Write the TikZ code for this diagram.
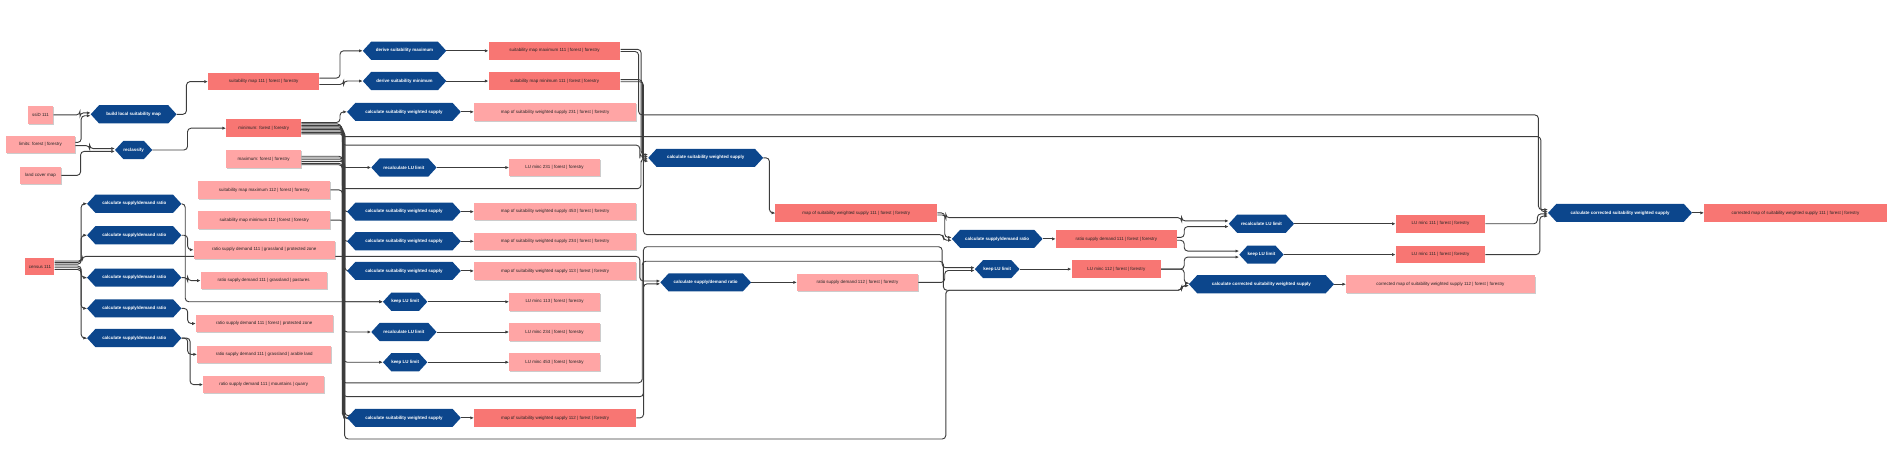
\documentclass[tikz,border=0pt]{standalone}
\usepackage{fontspec}
\setmainfont{Liberation Sans}
\usetikzlibrary{shapes.symbols,arrows.meta,shadows,backgrounds}
\definecolor{stepBlue}{RGB}{12,70,140}
\definecolor{dataDark}{RGB}{248,118,115}
\definecolor{dataLight}{RGB}{255,165,165}
\definecolor{linkGray}{RGB}{60,60,60}
\begin{document}
\begin{tikzpicture}[x=0.06cm,y=-0.06cm]
 \tikzset{
  stepNode/.style={shape=signal, signal to=east and west, signal pointer angle=95,
    fill=stepBlue, text=white, font=\fontsize{6.3}{7}\selectfont\bfseries,
    minimum height=0.9cm, inner xsep=0pt, inner ysep=0pt},
  dataNode/.style={rectangle, fill=dataDark, text=black!85,
    font=\fontsize{6.3}{7}\selectfont, minimum height=0.87cm, inner sep=0pt},
  inputNode/.style={dataNode, fill=dataLight,
    drop shadow={shadow xshift=1.5pt, shadow yshift=-1.5pt, fill=black!40}},
  link/.style={draw=linkGray, line width=1.3pt, rounded corners=5pt,
    -{Latex[length=5pt,width=4.5pt]}}
 }
 \useasboundingbox (0,0) rectangle (1566,378);

 % inputs
 \node[inputNode, minimum width=1.26cm] (ssid) at (33.5,95) {ssiD 111};
 \node[inputNode, minimum width=3.42cm] (limits) at (33.5,119.5) {limits: forest | forestry};
 \node[inputNode, minimum width=2.04cm] (landCover) at (33.5,145) {land cover map};
 \node[dataNode, minimum width=1.44cm] (census) at (33,220.5) {census 111};

 % local suitability and reclassification
 \node[stepNode, minimum width=4.26cm] (build) at (110.5,94.5) {build local suitability map};
 \node[stepNode, minimum width=1.74cm] (reclass) at (110.5,124) {reclassify};
 \node[dataNode, minimum width=5.52cm] (sm111) at (218,67.5) {suitability map 111 | forest | forestry};
 \node[dataNode, minimum width=3.72cm] (minimum) at (218,106) {minimum: forest | forestry};
 \node[inputNode, minimum width=3.72cm] (maximum) at (218,131.5) {maximum: forest | forestry};
 \node[inputNode, minimum width=6.54cm] (smMax112) at (218.5,157) {suitability map maximum 112 | forest | forestry};
 \node[inputNode, minimum width=6.54cm] (smMin112) at (218.5,182) {suitability map minimum 112 | forest | forestry};

 % supply/demand ratios
 \foreach \n/\y in {1/168.5,2/194.5,3/229.5,4/255,5/279.5}
  \node[stepNode, minimum width=4.68cm] (csdr\n) at (111,\y) {calculate supply/demand ratio};
 \node[inputNode, minimum width=7.02cm] (ratioGP) at (218.5,206.5) {ratio supply demand 111 | grassland | protected zone};
 \node[inputNode, minimum width=6.24cm] (ratioGPa) at (218,232) {ratio supply demand 111 | grassland | pastures};
 \node[inputNode, minimum width=6.78cm] (ratioFP) at (218.5,267.5) {ratio supply demand 111 | forest | protected zone};
 \node[inputNode, minimum width=6.66cm] (ratioGA) at (218.5,293) {ratio supply demand 111 | grassland | arable land};
 \node[inputNode, minimum width=6.0cm] (ratioMQ) at (218,318) {ratio supply demand 111 | mountains | quarry};

 % first column of steps
 \node[stepNode, minimum width=4.14cm] (deriveMax) at (334.5,42) {derive suitability maximum};
 \node[stepNode, minimum width=4.14cm] (deriveMin) at (334.5,67) {derive suitability minimum};
 \node[dataNode, minimum width=6.54cm] (smMax111) at (458.5,42) {suitability map maximum 111 | forest | forestry};
 \node[dataNode, minimum width=6.54cm] (smMin111) at (458.5,67) {suitability map minimum 111 | forest | forestry};
 \foreach \n/\y in {231/92.5,453/175,234/199.5,113/224}{
  \node[stepNode, minimum width=5.64cm] (sws\n) at (334,\y) {calculate suitability weighted supply};
  \node[inputNode, minimum width=8.04cm] (map\n) at (459,\y) {map of suitability weighted supply {\n} | forest | forestry};
 }
 \node[stepNode, minimum width=3.24cm] (recalc231) at (334,138.5) {recalculate LU limit};
 \node[inputNode, minimum width=4.5cm] (lu231) at (458.5,138.5) {LU minc 231 | forest | forestry};
 \node[stepNode, minimum width=2.16cm] (keep113) at (335,249.5) {keep LU limit};
 \node[inputNode, minimum width=4.5cm] (lu113) at (458.5,249.5) {LU minc 113 | forest | forestry};
 \node[stepNode, minimum width=3.24cm] (recalc234) at (334,274.5) {recalculate LU limit};
 \node[inputNode, minimum width=4.5cm] (lu234) at (458.5,274.5) {LU minc 234 | forest | forestry};
 \node[stepNode, minimum width=2.16cm] (keep453) at (335,299.5) {keep LU limit};
 \node[inputNode, minimum width=4.5cm] (lu453) at (458.5,299.5) {LU minc 453 | forest | forestry};
 \node[stepNode, minimum width=5.64cm] (sws112) at (334,345.5) {calculate suitability weighted supply};
 \node[dataNode, minimum width=8.04cm] (map112) at (459,345.5) {map of suitability weighted supply 112 | forest | forestry};

 % second column
 \node[stepNode, minimum width=5.7cm] (sws111) at (583.5,130.5) {calculate suitability weighted supply};
 \node[dataNode, minimum width=8.04cm] (map111) at (708,176) {map of suitability weighted supply 111 | forest | forestry};
 \node[stepNode, minimum width=4.5cm] (csdr112) at (583.5,233.5) {calculate supply/demand ratio};
 \node[inputNode, minimum width=6.0cm] (ratio112) at (709,233.5) {ratio supply demand 112 | forest | forestry};

 % third column
 \node[stepNode, minimum width=4.5cm] (csdr111) at (824.5,197.5) {calculate supply/demand ratio};
 \node[dataNode, minimum width=6.0cm] (ratio111) at (923,197.5) {ratio supply demand 111 | forest | forestry};
 \node[stepNode, minimum width=2.22cm] (keep112) at (824.5,222.5) {keep LU limit};
 \node[dataNode, minimum width=4.44cm] (lu112) at (923,222.5) {LU minc 112 | forest | forestry};

 % fourth column
 \node[stepNode, minimum width=3.24cm] (recalc111) at (1043,185) {recalculate LU limit};
 \node[stepNode, minimum width=2.16cm] (keep111) at (1043,210.5) {keep LU limit};
 \node[stepNode, minimum width=7.2cm] (corr112) at (1043,235) {calculate corrected suitability weighted supply};
 \node[dataNode, minimum width=4.44cm] (lu111a) at (1191,185) {LU minc 111 | forest | forestry};
 \node[dataNode, minimum width=4.44cm] (lu111b) at (1191,210.5) {LU minc 111 | forest | forestry};
 \node[inputNode, minimum width=9.36cm] (corrMap112) at (1191,235) {corrected map of suitability weighted supply 112 | forest | forestry};

 % final step
 \node[stepNode, minimum width=7.14cm] (corr111) at (1339.5,176) {calculate corrected suitability weighted supply};
 \node[dataNode, minimum width=9.06cm] (corrMap111) at (1484.5,176) {corrected map of suitability weighted supply 111 | forest | forestry};

 \begin{pgfonlayer}{background}
 % inputs to the first steps
 \draw[link] (ssid.east) -- ++(22,0) |- ([yshift=2pt]build.west);
 \draw[link] ([yshift=3pt]limits.east) -- ++(5,0) |- ([yshift=-2pt]build.west);
 \draw[link] ([yshift=-1.5pt]limits.east) -- ++(12,0) |- ([yshift=2pt]reclass.west);
 \draw[link] (landCover.east) -- ++(16,0) |- ([yshift=-2pt]reclass.west);
 \draw[link] (build.east) -- ++(8,0) |- (sm111.west);
 \draw[link] (reclass.east) -- ++(29,0) |- (minimum.west);
 \draw[link] ([yshift=5pt]sm111.east) -- ++(17,0) |- (deriveMax.west);
 \draw[link] ([yshift=-4pt]sm111.east) -- ++(20,0) |- (deriveMin.west);

 % census
 \foreach \t/\s in {csdr1/6,csdr2/3.5,csdr3/1,csdr4/-1.5,csdr5/-4}
  \draw[link] ([yshift=\s pt]census.east) -- ++(22,0) |- (\t.west);
 \draw[link] ([yshift=8pt]census.east) -| (68,212) -| (529,226) |- ([yshift=2pt]csdr112.west);
 \draw[link] (csdr1.east) -- ++(3,0) |- (keep113.west);
 \draw[link] (csdr2.east) -- ++(5,0) |- (ratioGP.west);
 \draw[link] (csdr3.east) -- ++(5,0) |- (ratioGPa.west);
 \draw[link] (csdr4.east) -- ++(5,0) |- (ratioFP.west);
 \draw[link] (csdr5.east) -- ++(5,0) |- (ratioGA.west);
 \draw[link] (csdr5.east) -- ++(7,0) |- (ratioMQ.west);

 % minimum bundle
 \draw[link] ([yshift=8pt]minimum.east) -- ++(32,0) |- (sws231.west);
 \draw[link] ([yshift=6pt]minimum.east) -| (282,113) -- (1274,113) |- ([yshift=1.5pt]corr111.west);
 \draw[link] ([yshift=4pt]minimum.east) -| (283,120) -| (529,128) |- ([yshift=1.5pt]sws111.west);
 \draw[link] ([yshift=2pt]minimum.east) -- ++(34,0) |- (recalc231.west);
 \draw[link] (minimum.east) -- ++(35,0) |- (sws453.west);
 \draw[link] ([yshift=-2pt]minimum.east) -- ++(35,0) |- (sws234.west);
 \draw[link] ([yshift=-4pt]minimum.east) -- ++(36,0) |- (sws113.west);
 \draw[link] ([yshift=-6pt]minimum.east) -- ++(36,0) |- ([yshift=3pt]sws112.west);
 \draw[link] ([yshift=-8pt]minimum.east) -| (284,328) -| (532,204) -- (779,204) |- ([yshift=2pt]keep112.west);

 % maximum bundle
 \draw[link] ([yshift=4pt]maximum.east) -- ++(34,0) |- (keep113.west);
 \draw[link] ([yshift=1.5pt]maximum.east) -- ++(35,0) |- (recalc234.west);
 \draw[link] ([yshift=-1pt]maximum.east) -- ++(35,0) |- (keep453.west);
 \draw[link] ([yshift=-3.5pt]maximum.east) -| (285,363) -| (782,245) |- (977,240) |- ([yshift=-2pt]corr112.west);
 \draw[link] ([yshift=-6pt]maximum.east) -| (283,156) -| (530,136) |- ([yshift=-1.5pt]sws111.west);
 \draw[link] ([yshift=-8pt]maximum.east) -| (283,316.5) -| (531,216) -- (780,216) |- (977,240) |- ([yshift=-2pt]corr112.west);
 \draw[link] (smMax112.east) -- ++(10,0) |- ([yshift=1pt]sws112.west);
 \draw[link] (smMin112.east) -- ++(11,0) |- ([yshift=-1pt]sws112.west);

 % steps to their outputs
 \foreach \a/\b in {deriveMax/smMax111,deriveMin/smMin111,sws231/map231,recalc231/lu231,
   sws453/map453,sws234/map234,sws113/map113,keep113/lu113,recalc234/lu234,keep453/lu453,
   sws112/map112,csdr112/ratio112,csdr111/ratio111,keep112/lu112,recalc111/lu111a,
   keep111/lu111b,corr112/corrMap112,corr111/corrMap111}
  \draw[link] (\a.east) -- (\b.west);
 \draw[link] (sws111.east) -- ++(5,0) |- (map111.west);

 % suitability maps 111
 \draw[link] ([yshift=2pt]smMax111.east) -- ++(17,0) |- ([yshift=4.5pt]sws111.west);
 \draw[link] ([yshift=-1pt]smMax111.east) -| (528,95) -- (1272,95) |- ([yshift=4.5pt]corr111.west);
 \draw[link] ([yshift=2pt]smMin111.east) -- ++(18,0) |- ([yshift=-4.5pt]sws111.west);
 \draw[link] ([yshift=-1pt]smMin111.east) -| (532,194) -- (780,194) |- ([yshift=-2pt]csdr111.west);
 \draw[link] (map112.east) -- ++(6,0) |- ([yshift=-2pt]csdr112.west);

 % second and third column
 \draw[link] (map111.east) -- ++(6,0) |- ([yshift=2pt]csdr111.west);
 \draw[link] ([yshift=-3pt]map111.east) -| (782,180) -- (977,180) |- ([yshift=4pt]recalc111.west);
 \draw[link] (ratio112.east) -- ++(22,0) |- ([yshift=-2pt]keep112.west);
 \draw[link] ([yshift=2pt]ratio111.east) -- ++(6,0) |- ([yshift=-4pt]recalc111.west);
 \draw[link] ([yshift=-2pt]ratio111.east) -- ++(6,0) |- ([yshift=5pt]keep111.west);
 \draw[link] (lu112.east) -- ++(19,0) |- ([yshift=-3.5pt]keep111.west);
 \draw[link] (lu112.east) -- ++(19,0) |- ([yshift=1.5pt]corr112.west);
 \draw[link] (lu111a.east) -- ++(43,0) |- ([yshift=-1.5pt]corr111.west);
 \draw[link] (lu111b.east) -- ++(45,0) |- ([yshift=-4.5pt]corr111.west);
 \end{pgfonlayer}
\end{tikzpicture}
\end{document}
